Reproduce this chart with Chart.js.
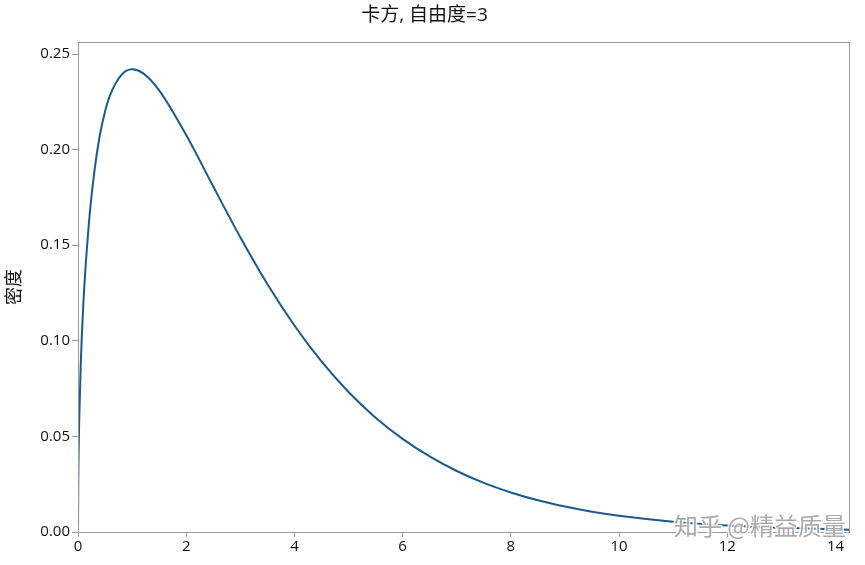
<!DOCTYPE html>
<html>
<head>
<meta charset="utf-8">
<script src="https://cdn.jsdelivr.net/npm/chart.js@4/dist/chart.umd.min.js"></script>
<style>
  html, body { margin: 0; padding: 0; background: #fff; }
  #wrap { width: 865px; height: 565px; }
</style>
</head>
<body>
<div id="wrap"><canvas id="c" width="865" height="565"></canvas></div>
<script>
// 卡方分布 自由度=3, 密度
var xs = [0, 0.005, 0.01, 0.02, 0.05, 0.1, 0.2, 0.3, 0.4, 0.5, 0.6, 0.8, 1.0, 1.2, 1.5,
          2.0, 2.5, 3.0, 3.5, 4.0, 4.5, 5.0, 5.5, 6.0, 6.5, 7.0, 7.5, 8.0, 8.5, 9.0,
          9.5, 10, 11, 12, 13, 14, 14.25];
var density = [0, 0.028, 0.040, 0.056, 0.087, 0.120, 0.161, 0.188, 0.207, 0.220, 0.229, 0.239, 0.242, 0.240, 0.231,
               0.2076, 0.1807, 0.1542, 0.1297, 0.1080, 0.0892, 0.0732, 0.0598, 0.0487, 0.0395, 0.0319, 0.0257, 0.0207, 0.0166, 0.0133,
               0.0106, 0.0085, 0.0054, 0.0034, 0.0022, 0.0014, 0.0012];
var xTicks = [0, 2, 4, 6, 8, 10, 12, 14];
var yTicks = [0, 0.05, 0.10, 0.15, 0.20, 0.25];

var FONT = '"Open Sans", "Noto Sans CJK SC", sans-serif';
var AXIS = '#9a9a9a';

var boxPlugin = {
    id: 'box',
    afterDraw: function (chart) {
        var a = chart.chartArea, ctx = chart.ctx;
        ctx.save();
        ctx.strokeStyle = AXIS;
        ctx.lineWidth = 1;
        ctx.strokeRect(a.left + 0.5, a.top + 0.5, a.right - a.left, a.bottom - a.top);
        // 水印
        ctx.font = '24px "Noto Sans CJK SC", sans-serif';
        ctx.textAlign = 'right';
        ctx.textBaseline = 'middle';
        ctx.lineWidth = 3;
        ctx.strokeStyle = 'rgba(255,255,255,0.85)';
        ctx.strokeText('知乎 @精益质量', 846, 526);
        ctx.fillStyle = 'rgba(150,150,150,0.8)';
        ctx.fillText('知乎 @精益质量', 846, 526);
        ctx.restore();
    }
};

new Chart(document.getElementById('c'), {
    type: 'line',
    data: {
        datasets: [{
            data: xs.map(function (x, i) { return { x: x, y: density[i] }; }),
            borderColor: '#1b5a8c',
            borderWidth: 2,
            pointRadius: 0,
            fill: false,
            cubicInterpolationMode: 'monotone'
        }]
    },
    options: {
        responsive: false,
        animation: false,
        layout: { padding: { left: 0, right: 16, top: 0, bottom: 0 } },
        plugins: {
            legend: { display: false },
            tooltip: { enabled: false },
            title: {
                display: true,
                text: '卡方, 自由度=3',
                color: '#111',
                font: { family: FONT, size: 19, weight: 'normal' },
                padding: { top: 4, bottom: 15.2 }
            }
        },
        scales: {
            x: {
                type: 'linear',
                min: 0, max: 14.25,
                afterBuildTicks: function (s) { s.ticks = xTicks.map(function (v) { return { value: v }; }); },
                afterFit: function (s) { s.height = 33; },
                grid: { drawOnChartArea: false, drawTicks: true, tickLength: 5, color: AXIS },
                border: { color: AXIS },
                ticks: { color: '#111', padding: 1, font: { family: FONT, size: 15 } }
            },
            y: {
                min: 0, max: 0.2563,
                afterBuildTicks: function (s) { s.ticks = yTicks.map(function (v) { return { value: v }; }); },
                afterFit: function (s) { s.width = 78; },
                grid: { drawOnChartArea: false, drawTicks: true, tickLength: 6, color: AXIS },
                border: { color: AXIS },
                ticks: {
                    color: '#111', padding: 2, font: { family: FONT, size: 15 },
                    callback: function (v) { return v.toFixed(2); }
                },
                title: {
                    display: true, text: '密度', color: '#111',
                    font: { family: FONT, size: 18 },
                    padding: { top: 4, bottom: 0 }
                }
            }
        }
    },
    plugins: [boxPlugin]
});
</script>
</body>
</html>
